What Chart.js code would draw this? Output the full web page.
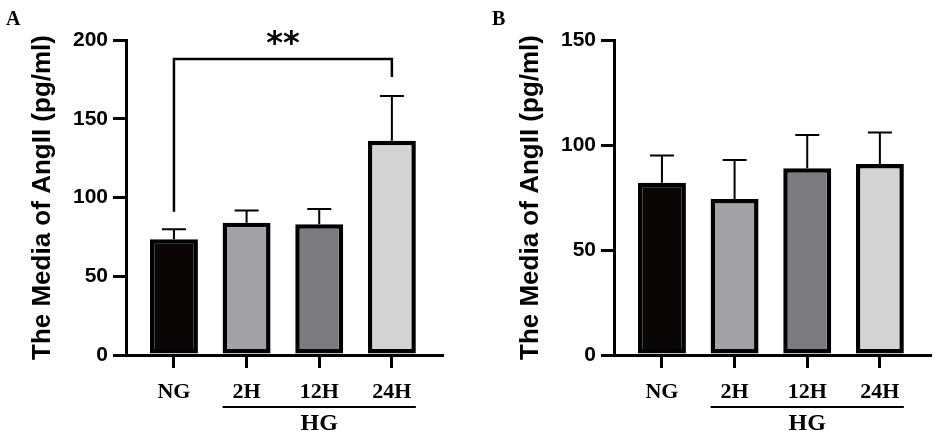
<!DOCTYPE html>
<html>
<head>
<meta charset="utf-8">
<script src="https://cdn.jsdelivr.net/npm/chart.js@4/dist/chart.umd.min.js"></script>
<style>
    html, body { margin: 0; padding: 0; background: #fff; }
    #wrap { position: relative; width: 935px; height: 443px; overflow: hidden; }
    canvas { position: absolute; top: 0; }
</style>
</head>
<body>
<div id="wrap">
    <canvas id="panelA" width="447" height="443" style="left:0"></canvas>
    <canvas id="panelB" width="447" height="443" style="left:488px"></canvas>
</div>
<script>
    // chart data
    var categories = ['NG', '2H', '12H', '24H'];
    var meansA = [73.5, 84, 83, 136];
    var sdA = [6.3, 7.8, 9.7, 28.4];
    var meansB = [82, 74.3, 88.9, 91];
    var sdB = [13, 18.6, 15.9, 14.9];
    var yTicksA = [0, 50, 100, 150, 200];
    var yTicksB = [0, 50, 100, 150];
    var groupLabel = 'HG';
    var groupRange = [1, 3];
    var sigPairA = [0, 3];
    var sigLevelsA = [188, 91, 176.5]; // bracket top, left leg end, right leg end
    var sigTextA = '**';
    var barColors = ['#0a0606', '#a2a2a4', '#7c7c7f', '#d4d4d4'];
    var yTitle = 'The Media of AngII (pg/ml)';

    var serif = '"Liberation Serif", "Times New Roman", serif';
    var sans = '"Liberation Sans", Arial, sans-serif';

    // upward error bars (mean + SD)
    var errorBars = {
        id: 'errorBars',
        afterDatasetsDraw: function (chart, args, opts) {
            var ctx = chart.ctx;
            var y = chart.scales.y;
            var ds = chart.data.datasets[0];
            var meta = chart.getDatasetMeta(0);
            ctx.save();
            ctx.strokeStyle = '#000';
            ctx.lineWidth = 2;
            meta.data.forEach(function (bar, i) {
                var top = y.getPixelForValue(ds.data[i].y + opts.sd[i]);
                ctx.beginPath();
                ctx.moveTo(bar.x, bar.y);
                ctx.lineTo(bar.x, top);
                ctx.moveTo(bar.x - 12, top);
                ctx.lineTo(bar.x + 12, top);
                ctx.stroke();
            });
            ctx.restore();
        }
    };

    // group bracket, significance bracket, panel letter
    var extras = {
        id: 'extras',
        afterDraw: function (chart, args, opts) {
            var ctx = chart.ctx;
            var x = chart.scales.x;
            var y = chart.scales.y;
            var meta = chart.getDatasetMeta(0);
            var area = chart.chartArea;
            ctx.save();
            ctx.fillStyle = '#000';
            ctx.strokeStyle = '#000';

            // HG underline
            var b0 = meta.data[groupRange[0]], b1 = meta.data[groupRange[1]];
            var gx0 = b0.x - b0.width / 2, gx1 = b1.x + b1.width / 2;
            var gy = area.bottom + 52;
            ctx.lineWidth = 2;
            ctx.beginPath();
            ctx.moveTo(gx0, gy);
            ctx.lineTo(gx1, gy);
            ctx.stroke();
            ctx.font = 'bold 24px ' + serif;
            ctx.textAlign = 'center';
            ctx.textBaseline = 'middle';
            ctx.fillText(groupLabel, (gx0 + gx1) / 2, gy + 17);

            // significance bracket
            if (opts.sig) {
                var sx0 = x.getPixelForValue(opts.sig.pair[0]);
                var sx1 = x.getPixelForValue(opts.sig.pair[1]);
                var sTop = y.getPixelForValue(opts.sig.levels[0]);
                ctx.lineWidth = 2.5;
                ctx.beginPath();
                ctx.moveTo(sx0, y.getPixelForValue(opts.sig.levels[1]));
                ctx.lineTo(sx0, sTop);
                ctx.lineTo(sx1, sTop);
                ctx.lineTo(sx1, y.getPixelForValue(opts.sig.levels[2]));
                ctx.stroke();
                ctx.font = 'bold 32px "DejaVu Sans", sans-serif';
                ctx.textBaseline = 'alphabetic';
                ctx.fillText(opts.sig.text, (sx0 + sx1) / 2, sTop - 6);
            }

            // panel letter
            ctx.font = 'bold 20px ' + serif;
            ctx.textAlign = 'left';
            ctx.textBaseline = 'alphabetic';
            ctx.fillText(opts.letter, opts.letterX, 25);
            ctx.restore();
        }
    };

    function makePanel(id, means, sd, yTicks, letter, letterX, sig) {
        var ctx = document.getElementById(id).getContext('2d');
        return new Chart(ctx, {
            type: 'bar',
            data: {
                datasets: [{
                    data: means.map(function (v, i) { return { x: i, y: v }; }),
                    backgroundColor: barColors,
                    borderColor: '#000',
                    borderWidth: 4.5,
                    borderSkipped: false,
                    barPercentage: 0.66,
                    categoryPercentage: 1
                }]
            },
            options: {
                responsive: false,
                animation: false,
                layout: { padding: { left: 0, right: 5, top: 40, bottom: 0 } },
                plugins: {
                    legend: { display: false },
                    tooltip: { enabled: false },
                    errorBars: { sd: sd },
                    extras: { letter: letter, letterX: letterX, sig: sig }
                },
                scales: {
                    x: {
                        type: 'linear',
                        offset: false,
                        min: -0.66,
                        max: 3.69,
                        afterBuildTicks: function (scale) {
                            scale.ticks = categories.map(function (c, i) { return { value: i }; });
                        },
                        afterFit: function (scale) { scale.height = 88; },
                        ticks: {
                            callback: function (v) { return categories[v]; },
                            font: { family: serif, size: 22, weight: 'bold' },
                            color: '#000',
                            padding: 11,
                            maxRotation: 0,
                            autoSkip: false
                        },
                        grid: { offset: false, drawOnChartArea: false, tickLength: 13, lineWidth: 3, color: '#000' },
                        border: { display: true, width: 3, color: '#000' }
                    },
                    y: {
                        min: yTicks[0],
                        max: yTicks[yTicks.length - 1],
                        afterBuildTicks: function (scale) {
                            scale.ticks = yTicks.map(function (v) { return { value: v }; });
                        },
                        afterFit: function (scale) { scale.width = 126; },
                        ticks: {
                            font: { family: sans, size: 21, weight: 'bold' },
                            color: '#000',
                            padding: 5
                        },
                        grid: { drawOnChartArea: false, tickLength: 13, lineWidth: 3, color: '#000' },
                        border: { display: true, width: 3, color: '#000' },
                        title: {
                            display: true,
                            text: yTitle,
                            color: '#000',
                            font: { family: sans, size: 26, weight: 'bold' },
                            padding: { top: 27, bottom: 0 }
                        }
                    }
                }
            },
            plugins: [errorBars, extras]
        });
    }

    makePanel('panelA', meansA, sdA, yTicksA, 'A', 6, {
        pair: sigPairA, levels: sigLevelsA, text: sigTextA
    });
    makePanel('panelB', meansB, sdB, yTicksB, 'B', 4, null);
</script>
</body>
</html>
